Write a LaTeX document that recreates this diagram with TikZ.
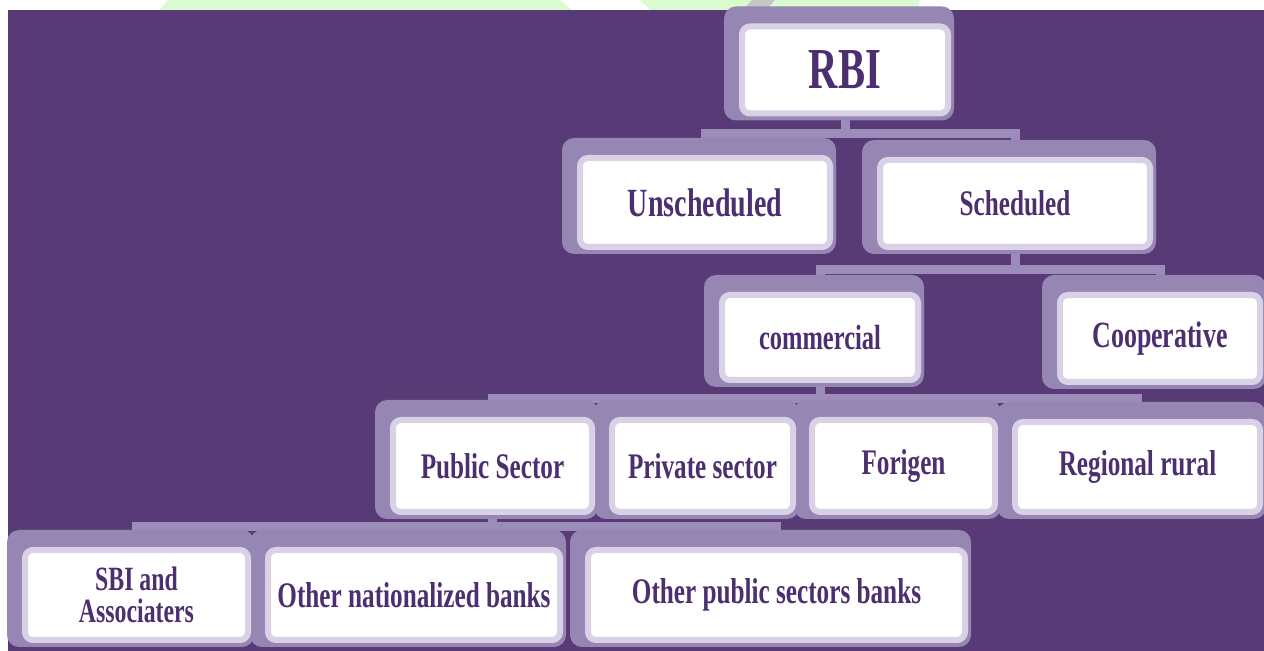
\documentclass[tikz,border=0pt]{standalone}
\usepackage{fontspec}
\setmainfont{Liberation Serif}[FakeStretch=0.7]
\usetikzlibrary{backgrounds}
\definecolor{bgpurple}{HTML}{573A76}
\definecolor{framepurple}{HTML}{9586B3}
\definecolor{linkpurple}{HTML}{9B8CB9}
\definecolor{panelrim}{HTML}{D9D2E6}
\definecolor{textpurple}{HTML}{4B2F70}
\definecolor{markgreen}{HTML}{D9FBCF}

\begin{document}
\begin{tikzpicture}[
    x=0.5pt, y=-0.5pt,
    bank/.style 2 args={draw=panelrim, line width=3pt, fill=white, rounded corners=4pt,
      minimum width=#1*0.5pt, minimum height=#2*0.5pt, inner sep=0pt,
      text=textpurple, align=center, fs=18},
    fs/.style={font=\bfseries\fontsize{#1}{16}\selectfont},
    link/.style={draw=linkpurple, line width=4.5pt}
  ]
  \useasboundingbox (0,0) rectangle (1264,651);

  % the tree, top down
  \node[bank={206}{87}, fs=29] (rbi) at (845,70) {RBI};
  \node[bank={250}{89}, fs=20] (uns) at (705,202.5) {Unscheduled};
  \node[bank={270}{87}, fs=18] (sch) at (1015,203.5) {Scheduled};
  \node[bank={196}{85}, fs=17.5] (com) at (820,337.5) {commercial};
  \node[bank={200}{87}, fs=18.5] (coop) at (1160,338.5) {Cooperative};
  \node[bank={199}{92}] (pub) at (492.5,466) {Public Sector};
  \node[bank={181}{92}] (priv) at (702.5,466) {Private sector};
  \node[bank={183}{92}] (forg) at (903.5,466) {Forigen};
  \node[bank={245}{90}] (reg) at (1137.5,467) {Regional rural};
  \node[bank={223}{90}, fs=17] (sbi) at (136.5,595) {SBI and\\Associaters};
  \node[bank={292}{90}] (onb) at (414,595) {Other nationalized banks};
  \node[bank={377}{90}] (opsb) at (776.5,595) {Other public sectors banks};

  \begin{scope}[on background layer]
    \fill[white] (0,0) rectangle (1264,651);
    \fill[bgpurple] (8,10) rectangle (1264,651);
    % watermark bits in the top strip
    \fill[markgreen] (168,0) -- (560,0) -- (572,10) -- (160,10) -- cycle;
    \fill[markgreen] (640,0) -- (920,0) -- (918,10) -- (650,10) -- cycle;
    \fill[gray!45] (752,0) -- (775,0) -- (766,10) -- (743,10) -- cycle;

    \draw[link] (rbi.south) -- ++(0,17) -| (uns.north);
    \draw[link] (rbi.south) -- ++(0,17) -| (sch.north);
    \draw[link] (sch.south) -- ++(0,20) -| (com.north);
    \draw[link] (sch.south) -- ++(0,20) -| (coop.north);
    \foreach \c in {pub,priv,forg,reg}
      \draw[link] (com.south) -- ++(0,16) -| (\c.north);
    \foreach \c in {sbi,onb,opsb}
      \draw[link] (pub.south) -- ++(0,12) -| (\c.north);

    \foreach \n in {rbi,uns,sch,com,coop,pub,priv,forg,reg,sbi,onb,opsb}
      \fill[framepurple, rounded corners=6pt]
        ([shift={(-15,-17)}]\n.north west) rectangle ([shift={(3,4)}]\n.south east);
  \end{scope}
\end{tikzpicture}
\end{document}
